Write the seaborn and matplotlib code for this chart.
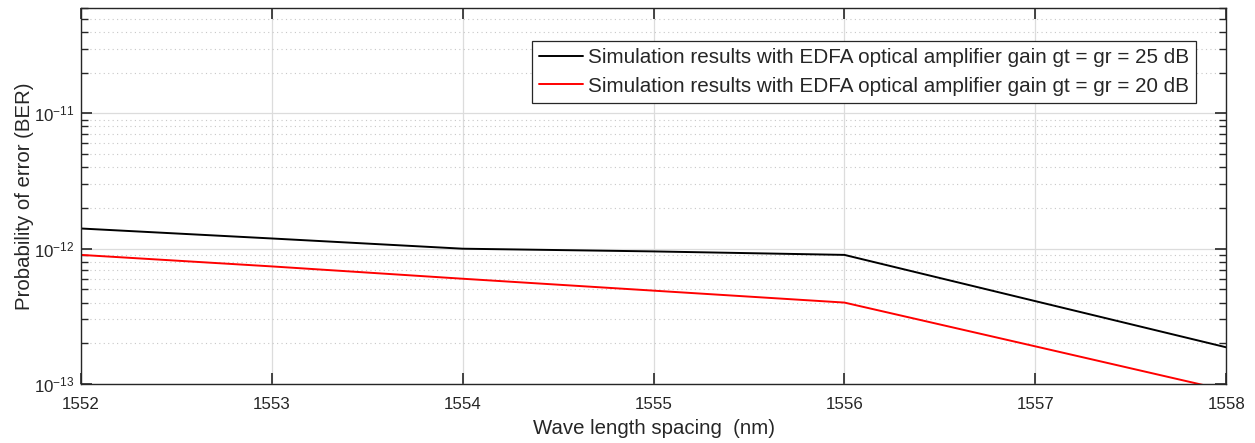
import matplotlib
matplotlib.use("Agg")
import matplotlib.pyplot as plt
import seaborn as sns
import pandas as pd
import numpy as np
from matplotlib.ticker import FixedLocator, FuncFormatter, NullFormatter

wavelength = [1552, 1553, 1554, 1555, 1556, 1557, 1558]
ber_25db = [1.41e-12, 1.19e-12, 1.0e-12, 0.955e-12, 0.90e-12, 4.1e-13, 1.87e-13]
ber_20db = [0.90e-12, 7.4e-13, 6.0e-13, 4.9e-13, 4.0e-13, 1.9e-13, 9.0e-14]
label_25 = "Simulation results with EDFA optical amplifier gain gt = gr = 25 dB"
label_20 = "Simulation results with EDFA optical amplifier gain gt = gr = 20 dB"
x_ticks = [1552, 1553, 1554, 1555, 1556, 1557, 1558]
y_exponents = [-13, -12, -11]

sns.set_theme(style="white")
plt.rcParams['font.family'] = ['Liberation Sans', 'DejaVu Sans']
plt.rcParams['mathtext.fontset'] = 'custom'
plt.rcParams['mathtext.rm'] = 'Liberation Sans'
plt.rcParams['mathtext.it'] = 'Liberation Sans'
plt.rcParams['axes.unicode_minus'] = False

df = pd.DataFrame({
    "wl": wavelength * 2,
    "ber": ber_25db + ber_20db,
    "series": [label_25] * len(wavelength) + [label_20] * len(wavelength),
})

fig = plt.figure(figsize=(12.55, 4.43), dpi=100)
ax = fig.add_axes([0.0645, 0.133, 0.9125, 0.849])

sns.lineplot(data=df, x="wl", y="ber", hue="series",
             palette={label_25: "black", label_20: "red"},
             linewidth=1.4, ax=ax, sort=False)

ax.set_yscale("log")
ax.set_xlim(1552, 1558)
ax.set_ylim(1e-13, 6e-11)
ax.set_xticks(x_ticks)
ax.set_xticklabels([str(v) for v in x_ticks])

major_y = [10.0 ** e for e in y_exponents]
minor_y = [m * 10.0 ** e for e in y_exponents for m in range(2, 10) if m * 10.0 ** e <= 6e-11]
ax.yaxis.set_major_locator(FixedLocator(major_y))
ax.yaxis.set_major_formatter(FuncFormatter(
    lambda v, p: r"$\mathregular{10^{%d}}$" % int(round(np.log10(v)))))
ax.yaxis.set_minor_locator(FixedLocator(minor_y))
ax.yaxis.set_minor_formatter(NullFormatter())

ax.grid(True, which="major", axis="both", color="#dcdcdc", linewidth=0.9, linestyle="-")
ax.grid(True, which="minor", axis="y", color="#c8c8c8", linewidth=0.8, linestyle=(0, (1, 3)))
ax.set_axisbelow(True)

for s in ax.spines.values():
    s.set_color("#262626")
    s.set_linewidth(1.0)
ax.tick_params(axis="both", which="major", direction="in", length=8, width=1.2,
               color="#262626", labelsize=12.2, labelcolor="#262626",
               top=True, right=True, bottom=True, left=True)
ax.tick_params(axis="x", which="major", pad=9)
ax.tick_params(axis="y", which="major", pad=5)
ax.tick_params(axis="y", which="minor", direction="in", length=5, width=1.0,
               color="#262626", left=True, right=True)

ax.set_xlabel("Wave length spacing  (nm)", fontsize=14.7, color="#262626", labelpad=5)
ax.set_ylabel("Probability of error (BER)", fontsize=14.7, color="#262626", labelpad=0)

leg = ax.legend(loc="upper right", bbox_to_anchor=(0.974, 0.912), fontsize=14.9,
                frameon=True, fancybox=False, edgecolor="#262626",
                handlelength=2.1, handletextpad=0.25, borderpad=0.35, labelspacing=0.45,
                borderaxespad=0)
leg.get_frame().set_linewidth(0.9)
leg.get_frame().set_facecolor("white")
leg.get_frame().set_alpha(1.0)

fig.savefig("out.png", dpi=100)
